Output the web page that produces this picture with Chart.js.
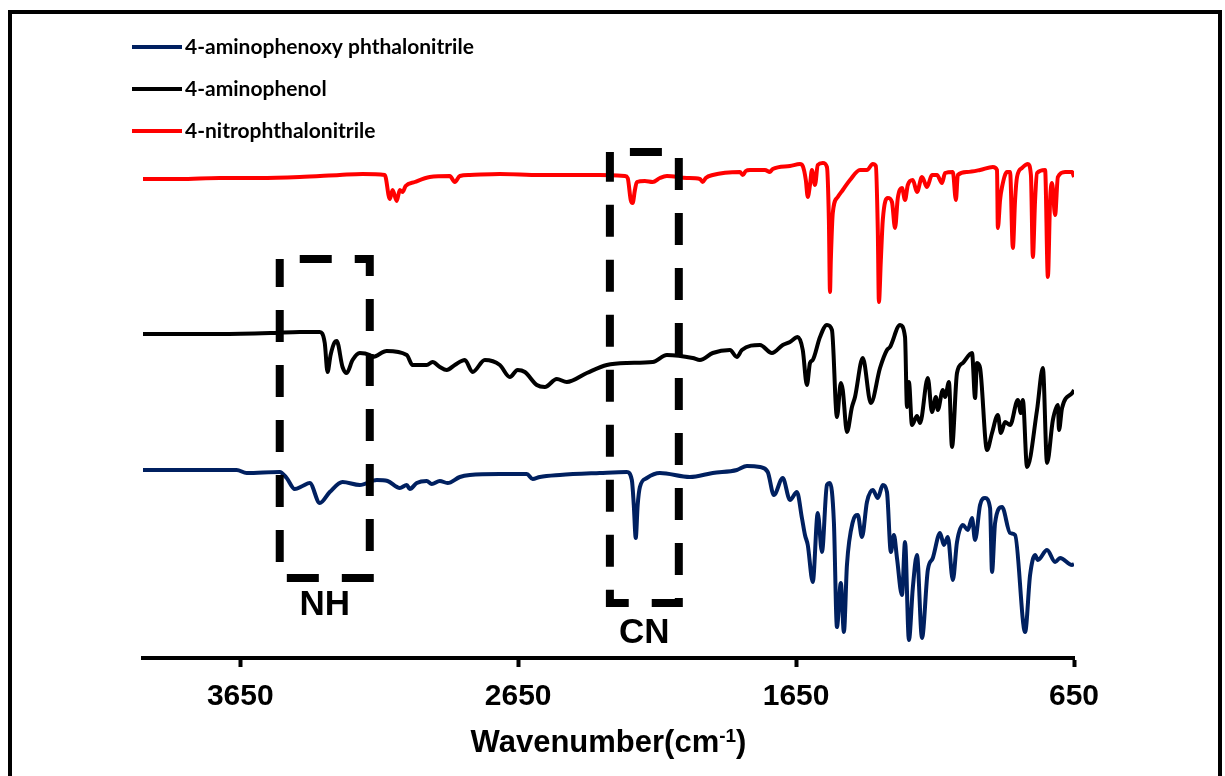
<!DOCTYPE html>
<html>
<head>
<meta charset="utf-8">
<script src="https://cdn.jsdelivr.net/npm/chart.js@4/dist/chart.umd.min.js"></script>
<style>
  html, body { margin: 0; padding: 0; background: #fff; }
  canvas { display: block; }
</style>
</head>
<body>
<canvas id="ftir" width="1225" height="776"></canvas>
<script>
// x axis: wavenumber (cm-1), shown reversed
const xTicks = [3650, 2650, 1650, 650];

// 4-aminophenoxy phthalonitrile (blue, bottom trace)
const wnBlue = [4000, 3868, 3663, 3627, 3508, 3483, 3454, 3426, 3400, 3364, 3328, 3282, 3220, 3159, 3120, 3076, 3051, 3040, 3015, 2979, 2961, 2932, 2904, 2860, 2824, 2716, 2619, 2598, 2572, 2500, 2356, 2259, 2241, 2234, 2227, 2220, 2212, 2187, 2140, 2032, 1950, 1863, 1827, 1780, 1752, 1730, 1698, 1672, 1647, 1629, 1618, 1608, 1590, 1572, 1557, 1539, 1528, 1514, 1503, 1489, 1478, 1467, 1446, 1428, 1413, 1395, 1374, 1356, 1338, 1323, 1309, 1298, 1287, 1269, 1258, 1244, 1230, 1215, 1197, 1176, 1158, 1132, 1118, 1104, 1086, 1071, 1050, 1032, 1017, 1006, 988, 970, 952, 945, 934, 909, 880, 862, 826, 808, 790, 780, 747, 718, 700, 657, 650];
const tBlue  = [188, 188, 188, 185, 186, 180, 169, 172, 175, 155, 166, 176, 173, 178, 177, 170, 173, 169, 175, 177, 174, 177, 175, 181, 183, 184, 184, 179, 181, 183, 185, 186, 178, 153, 120, 153, 171, 180, 185, 181, 185, 188, 192, 191, 186, 163, 180, 158, 166, 140, 123, 113, 76, 145, 106, 173, 175, 136, 31, 75, 26, 93, 136, 143, 121, 156, 168, 160, 173, 166, 106, 123, 100, 63, 116, 18, 70, 103, 20, 88, 100, 125, 113, 121, 78, 116, 133, 128, 140, 118, 153, 160, 150, 86, 135, 151, 125, 123, 26, 83, 103, 98, 108, 96, 100, 93, 94];

// 4-aminophenol (black, middle trace)
const wnBlack = [4000, 3868, 3724, 3534, 3436, 3364, 3346, 3336, 3325, 3310, 3303, 3282, 3267, 3246, 3220, 3184, 3174, 3123, 3051, 3030, 2979, 2958, 2932, 2907, 2878, 2842, 2814, 2770, 2716, 2680, 2652, 2626, 2583, 2554, 2511, 2475, 2403, 2331, 2259, 2166, 2115, 2022, 1996, 1950, 1888, 1863, 1845, 1780, 1737, 1698, 1672, 1644, 1626, 1611, 1600, 1590, 1564, 1539, 1521, 1503, 1489, 1482, 1467, 1449, 1438, 1410, 1381, 1348, 1323, 1312, 1276, 1258, 1251, 1244, 1233, 1215, 1204, 1176, 1161, 1147, 1140, 1122, 1114, 1100, 1089, 1071, 1050, 1017, 1006, 999, 988, 963, 945, 924, 913, 898, 880, 852, 841, 834, 819, 783, 762, 747, 726, 708, 704, 693, 654, 650];
const tBlack  = [324, 324, 324, 325, 326, 326, 315, 286, 303, 316, 317, 291, 285, 298, 305, 303, 301, 307, 303, 293, 293, 296, 291, 288, 293, 298, 286, 298, 293, 281, 288, 286, 273, 271, 279, 276, 285, 293, 295, 296, 303, 300, 298, 305, 308, 301, 308, 313, 305, 313, 316, 321, 308, 273, 295, 298, 321, 333, 328, 241, 275, 268, 226, 251, 261, 300, 255, 290, 308, 311, 333, 321, 251, 276, 233, 242, 235, 280, 246, 261, 248, 268, 261, 276, 211, 285, 295, 305, 260, 295, 290, 208, 225, 243, 225, 236, 233, 258, 245, 258, 191, 248, 290, 195, 238, 253, 228, 250, 266, 268];

// 4-nitrophthalonitrile (red, top trace)
const wnRed = [4000, 3868, 3724, 3580, 3436, 3292, 3210, 3130, 3112, 3102, 3087, 3076, 3066, 3055, 3022, 2968, 2896, 2878, 2860, 2824, 2716, 2572, 2356, 2266, 2256, 2245, 2238, 2230, 2223, 2194, 2166, 2140, 2115, 2043, 1996, 1986, 1975, 1950, 1852, 1842, 1831, 1816, 1762, 1744, 1734, 1672, 1636, 1626, 1615, 1608, 1600, 1593, 1582, 1572, 1554, 1539, 1532, 1528, 1525, 1518, 1500, 1482, 1456, 1420, 1395, 1374, 1363, 1356, 1352, 1345, 1338, 1320, 1305, 1294, 1284, 1269, 1258, 1248, 1230, 1215, 1197, 1179, 1161, 1143, 1125, 1114, 1086, 1075, 1068, 1035, 988, 942, 927, 924, 916, 909, 891, 880, 870, 862, 855, 837, 816, 805, 798, 790, 783, 754, 744, 736, 729, 718, 708, 682, 657, 650];
const tRed  = [479, 479, 480, 480, 481, 483, 484, 483, 459, 468, 457, 468, 466, 472, 476, 481, 482, 476, 482, 483, 484, 483, 483, 482, 480, 458, 455, 468, 476, 477, 476, 480, 482, 480, 479, 476, 480, 483, 486, 483, 487, 488, 488, 486, 489, 492, 494, 492, 478, 461, 473, 488, 473, 493, 495, 491, 438, 366, 398, 445, 461, 468, 478, 488, 488, 494, 492, 428, 356, 398, 438, 460, 456, 430, 460, 470, 458, 473, 478, 466, 481, 471, 483, 483, 475, 485, 486, 458, 483, 486, 488, 491, 488, 430, 458, 471, 486, 486, 410, 458, 481, 490, 494, 483, 401, 458, 485, 488, 381, 458, 475, 443, 481, 486, 486, 481];

const seriesNames = ['4-aminophenoxy phthalonitrile', '4-aminophenol', '4-nitrophthalonitrile'];
const seriesColors = ['#002060', '#000000', '#ff0000'];

// dashed boxes marking the NH and CN bands: [wn left, wn right, top, bottom]
const boxes = [
  { label: 'NH', wn: [3508, 3184], t: [399, 80], labelT: 53 },
  { label: 'CN', wn: [2320, 2072], t: [506, 55], labelT: 25 }
];

function toPoints(xs, ys) {
  return xs.map((x, i) => ({ x: x, y: ys[i] }));
}

const sideLegend = {
  id: 'sideLegend',
  afterDraw(chart) {
    const ctx = chart.ctx;
    ctx.save();
    // outer frame
    ctx.strokeStyle = '#000';
    ctx.lineWidth = 4;
    ctx.beginPath();
    ctx.moveTo(10, 790);
    ctx.lineTo(10, 12);
    ctx.lineTo(1220, 12);
    ctx.lineTo(1220, 790);
    ctx.stroke();

    chart.data.datasets.forEach((ds, i) => {
      const y = 47 + i * 42;
      ctx.strokeStyle = ds.borderColor;
      ctx.lineWidth = 4;
      ctx.beginPath();
      ctx.moveTo(132, y);
      ctx.lineTo(182, y);
      ctx.stroke();
      ctx.fillStyle = '#000';
      ctx.font = 'bold 21px Lato';
      ctx.textBaseline = 'middle';
      ctx.textAlign = 'left';
      ctx.fillText(ds.label, 185, y);
    });

    // axis title with superscript
    const xs = chart.scales.x;
    const mid = (xs.left + xs.right) / 2;
    const main = 'Wavenumber(cm';
    ctx.font = 'bold 31px "Liberation Sans"';
    const w1 = ctx.measureText(main).width;
    ctx.font = 'bold 19px "Liberation Sans"';
    const w2 = ctx.measureText('-1').width;
    ctx.font = 'bold 31px "Liberation Sans"';
    const w3 = ctx.measureText(')').width;
    let x0 = mid - (w1 + w2 + w3) / 2;
    ctx.textBaseline = 'alphabetic';
    ctx.fillText(main, x0, 752);
    ctx.font = 'bold 19px "Liberation Sans"';
    ctx.fillText('-1', x0 + w1, 742);
    ctx.font = 'bold 31px "Liberation Sans"';
    ctx.fillText(')', x0 + w1 + w2, 752);
    ctx.restore();
  },
  afterDatasetsDraw(chart) {
    const ctx = chart.ctx;
    const xs = chart.scales.x, ys = chart.scales.y;
    ctx.save();
    boxes.forEach(b => {
      const x1 = xs.getPixelForValue(b.wn[0]);
      const x2 = xs.getPixelForValue(b.wn[1]);
      const y1 = ys.getPixelForValue(b.t[0]);
      const y2 = ys.getPixelForValue(b.t[1]);
      ctx.strokeStyle = '#000';
      ctx.lineWidth = 8;
      ctx.setLineDash([32, 23]);
      ctx.lineDashOffset = 35;
      ctx.strokeRect(x1, y1, x2 - x1, y2 - y1);
      ctx.setLineDash([]);
      ctx.fillStyle = '#000';
      ctx.font = 'bold 35px "Liberation Sans"';
      ctx.textAlign = 'center';
      ctx.textBaseline = 'middle';
      ctx.fillText(b.label, (x1 + x2) / 2, ys.getPixelForValue(b.labelT));
    });
    ctx.restore();
  }
};

new Chart(document.getElementById('ftir'), {
  type: 'line',
  data: {
    datasets: [
      { label: seriesNames[0], data: toPoints(wnBlue, tBlue), borderColor: seriesColors[0] },
      { label: seriesNames[1], data: toPoints(wnBlack, tBlack), borderColor: seriesColors[1] },
      { label: seriesNames[2], data: toPoints(wnRed, tRed), borderColor: seriesColors[2] }
    ]
  },
  options: {
    responsive: false,
    animation: false,
    parsing: false,
    elements: {
      line: { borderWidth: 4, cubicInterpolationMode: 'monotone', fill: false },
      point: { radius: 0 }
    },
    layout: { padding: { left: 143, right: 151, top: 20, bottom: 49 } },
    plugins: { legend: { display: false }, tooltip: { enabled: false } },
    scales: {
      x: {
        type: 'linear',
        reverse: true,
        min: 650,
        max: 4000,
        afterBuildTicks: scale => { scale.ticks = xTicks.map(v => ({ value: v })); },
        grid: { drawOnChartArea: false, drawTicks: true, tickLength: 9, tickWidth: 4, tickColor: '#000' },
        border: { display: true, color: '#000', width: 4 },
        ticks: {
          color: '#000',
          padding: 12,
          maxRotation: 0,
          autoSkip: false,
          callback: v => String(v),
          font: { family: 'Liberation Sans', size: 30, weight: 'bold' }
        }
      },
      y: { display: false, min: 0, max: 638 }
    }
  },
  plugins: [sideLegend]
});
</script>
</body>
</html>
